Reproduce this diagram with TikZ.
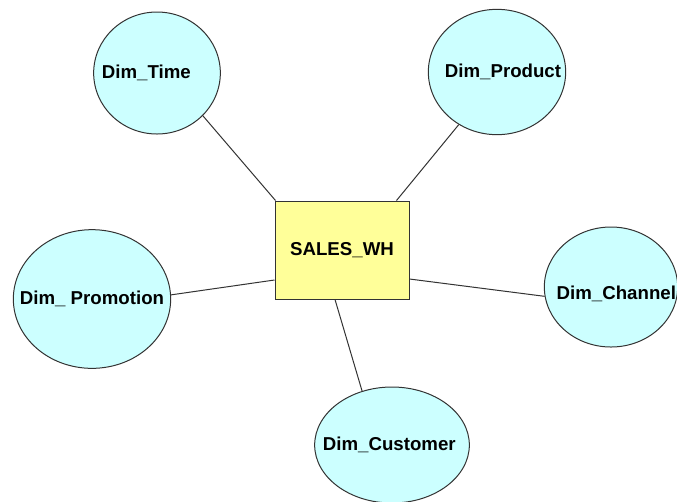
\documentclass[tikz,border=0pt]{standalone}
\usepackage{fontspec}
\setmainfont{Liberation Sans}
\usetikzlibrary{shapes.geometric}
\definecolor{dimfill}{HTML}{CCFFFF}
\definecolor{factfill}{HTML}{FFFF99}
\definecolor{edgegray}{HTML}{333333}
\begin{document}
\begin{tikzpicture}[x=0.75pt,y=-0.75pt]

        \clip (0,0) rectangle (677,501);
        \useasboundingbox (0,0) rectangle (677,501);

        \begin{scope}[every node/.style={draw=edgegray, line width=0.75pt, inner sep=0pt,
                      font=\bfseries\fontsize{14}{16}\selectfont},
                      dim/.style={ellipse, fill=dimfill},
                      dimtext/.style={draw=none, fill=none}]
          \node[rectangle, fill=factfill, minimum width=100.5pt, minimum height=73.5pt]
                (wh) at (342,250) {SALES\_WH};
          \node[dim, minimum width=95pt, minimum height=91.5pt,
                label={[dimtext, xshift=-8pt]center:Dim\_Time}] (time) at (157,73) {};
          \node[dim, minimum width=103pt, minimum height=94pt,
                label={[dimtext, xshift=4.5pt]center:Dim\_Product}] (product) at (497,72) {};
          \node[dim, minimum width=118pt, minimum height=104pt,
                label={[dimtext]center:Dim\_ Promotion}] (promotion) at (92,299) {};
          \node[dim, minimum width=100pt, minimum height=90pt,
                label={[dimtext, xshift=4pt, yshift=-5pt]center:Dim\_Channel}] (channel) at (611,287) {};
          \node[dim, minimum width=116pt, minimum height=87pt,
                label={[dimtext, xshift=-2pt]center:Dim\_Customer}] (customer) at (392,445) {};
        \end{scope}

        \begin{scope}[every path/.style={draw=edgegray, line width=0.75pt}]
          \path (time.-43) edge ([xshift=0.75pt]wh.north west);
          \path (product.-126) edge ([xshift=-9.75pt]wh.north east);
          \path (promotion.3) edge ([yshift=-22.5pt]wh.west);
          \path (channel.188) edge ([yshift=-21.75pt]wh.east);
          \path (customer.119) edge ([xshift=-5.25pt]wh.south);
        \end{scope}

      \end{tikzpicture}
\end{document}
